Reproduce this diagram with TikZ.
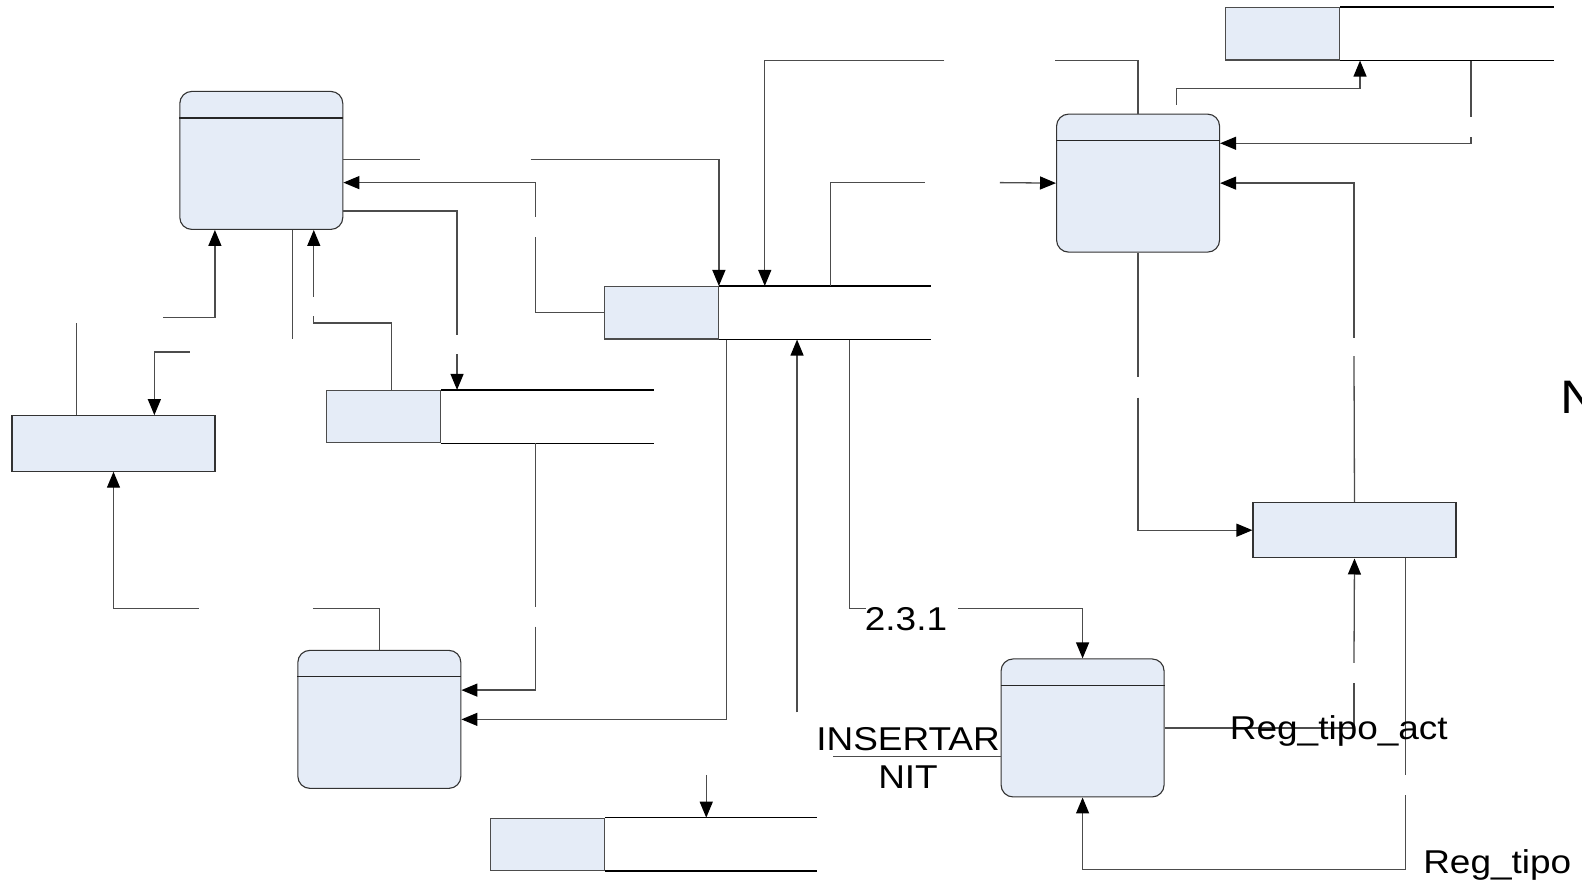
\documentclass[tikz,border=0pt]{standalone}
\usepackage{fontspec}
\usepackage{tikz}
\usetikzlibrary{arrows.meta}
\setmainfont{Liberation Sans}[FakeStretch=1.12]
\definecolor{boxblue}{RGB}{229,236,247}

\begin{document}
\begin{tikzpicture}[x=1.00893pt, y=-1.00893pt,
    proc/.style={draw=black!80, line width=1.1pt, fill=boxblue, rounded corners=12pt, minimum width=163pt, minimum height=138pt, inner sep=0pt},
    ent/.style={draw=black!80, line width=1.1pt, fill=boxblue, minimum width=203pt, minimum height=55.5pt, inner sep=0pt},
    storebox/.style={draw=black!70, line width=1.1pt, fill=boxblue, minimum width=114pt, minimum height=52.5pt, inner sep=0pt},
    storeline/.style={draw=black, line width=1.6pt},
    link/.style={draw=black!70, line width=1.3pt},
    flow/.style={link, -{Triangle[length=16pt, width=13pt, black]}},
    lbl/.style={font=\fontsize{33}{36}\selectfont, inner sep=0pt}]
    \clip (0,0) rectangle (1568,875);

    \node[proc] (P1) at (259, 159) {};
    \node[proc] (P2) at (376, 713) {};
    \node[proc] (P3) at (1128, 181.5) {};
    \node[proc] (P4) at (1073, 721.5) {};
    \node[ent] (E1) at (112.5, 439.5) {};
    \node[ent] (E2) at (1342.5, 525.5) {};
    \node[storebox] (D1) at (380, 413) {};
    \node[storebox] (D2) at (655.5, 310) {};
    \node[storebox] (D3) at (542.5, 837) {};
    \node[storebox] (D4) at (1271.5, 33.5) {};

    % process headers
    \foreach \p in {P1,P2,P3,P4}
        \draw[draw=black!85, line width=1.3pt] ([yshift=-27pt]\p.north west) -- ([yshift=-27pt]\p.north east);
    % open ends of the stores
    \foreach \s/\e in {D1/648, D2/923, D3/810, D4/1540} {
        \draw[storeline] (\s.north east) -- (\e,0 |- \s.north);
        \draw[storeline] (\s.south east) -- (\e,0 |- \s.south);
    }

    % around P1
    \draw[link] (P1.east |- 0,158) -- (416,158);
    \draw[flow] (526,158) -| (D2.north east);
    \draw[link] (D2.west) -| (531,235);
    \draw[flow] (531,215) |- (P1.east |- 0,181);
    \draw[link] (P1.east |- 0,209) -| (453,332);
    \draw[flow] (453,351) -- (453,0 |- D1.north);
    \draw[link] (P1.south -| 290,0) -- (290,336);
    \draw[flow] (162,315) -| (P1.south -| 213,0);
    \draw[link] (D1.north -| 388,0) |- (311,320) -- (311,313);
    \draw[flow] (311,294) -- (P1.south -| 311,0);

    % around E1 and P2
    \draw[link] (E1.north -| 76,0) -- (76,320);
    \draw[flow] (188,349) -| (E1.north -| 153,0);
    \draw[flow] (197,603) -| (E1.south);
    \draw[link] (310,603) -| (P2.north);
    \draw[link] (D1.south -| 531,0) -- (531,602);
    \draw[flow] (531,621) |- (P2.east |- 0,684);
    \draw[flow] (D2.south -| 720,0) |- (P2.east);

    % around D2
    \draw[flow] (790,706) -- (D2.south -| 790,0);
    \draw[link] (D2.south -| 842,0) |- (858,603);
    \draw[flow] (950,603) -| (P4.north);
    \draw[flow] (936,60) -| (D2.north -| 758,0);
    \draw[link] (D2.north -| 823,0) |- (917,181);
    \draw[flow] (700,768) -- (D3.north -| 700,0);

    % around P3 and E2
    \draw[flow] (991,181) -- (P3.west);
    \draw[link] (P3.north) |- (1046,60);
    \draw[flow] (1166,104) |- (1348,88) -- (D4.south -| 1348,0);
    \draw[link] (D4.south -| 1458,0) -- (1458,116);
    \draw[flow] (1458,136) |- (P3.east |- 0,142);
    \draw[link] (E2.north) -- (1342,353);
    \draw[flow] (1342,335) |- (P3.east);
    \draw[link] (P3.south) -- (1128,374);
    \draw[flow] (1128,394) |- (E2.west);

    % around P4
    \draw[link] (P4.east) -| (1342,677);
    \draw[flow] (1342,657) -- (E2.south);
    \draw[link] (E2.south -| 1393,0) -- (1393,768);
    \draw[flow] (1393,788) |- (P4.south |- 0,862) -- (P4.south);
    \draw[link] (826,750) -- (P4.west |- 0,750);

    % labels
    \node[lbl] (l231) at (898,614) {2.3.1};
    \node[lbl] (lins) at (900,733) {INSERTAR};
    \node[lbl] (lnit) at (900,770) {NIT};
    \node[lbl] (lact) at (1327,724) {Reg\_tipo\_act};
    \node[lbl] (ltipo) at (1484,857) {Reg\_tipo};
    \node[lbl, font=\fontsize{47}{50}\selectfont, anchor=west] (lN) at (1546,394) {N};
\end{tikzpicture}
\end{document}
